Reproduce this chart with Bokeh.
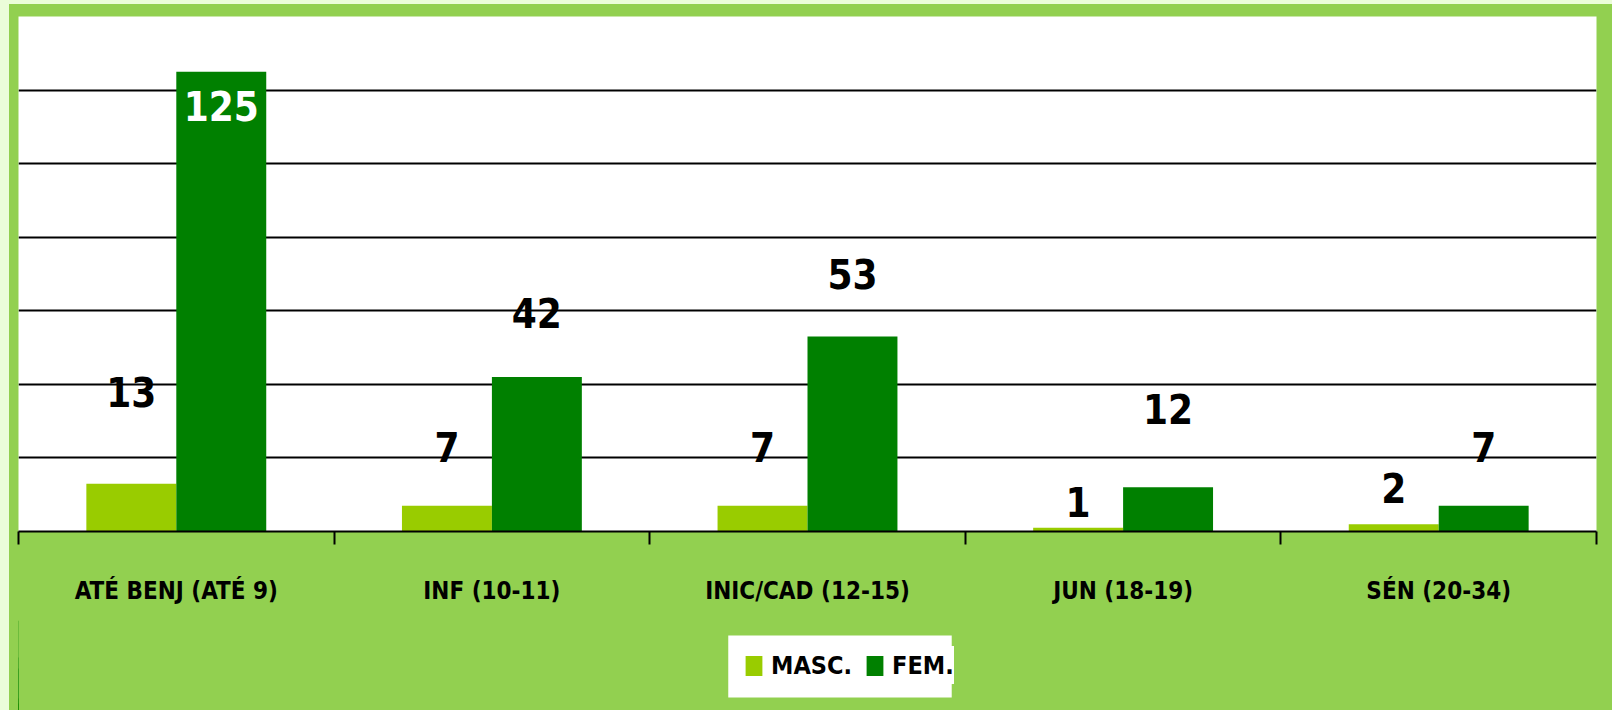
from bokeh.plotting import figure
from bokeh.layouts import column
from bokeh.models import (ColumnDataSource, FixedTicker, CustomJSTickFormatter,
                          GlobalInlineStyleSheet, Legend, LegendItem, BoxAnnotation)
from bokeh.transform import dodge
from bokeh.core.properties import value
from bokeh.embed import file_html
from bokeh.resources import INLINE

# ---- data ----
categories = ["ATÉ BENJ (ATÉ 9)", "INF (10-11)", "INIC/CAD (12-15)", "JUN (18-19)", "SÉN (20-34)"]
masc = [13, 7, 7, 1, 2]
fem = [125, 42, 53, 12, 7]
series_names = ["MASC.", "FEM."]
# label anchor heights (data units, label centres) as placed in the original
masc_label_y = [37.8, 23.1, 23.1, 8.0, 11.7]
fem_label_y = [115.8, 59.4, 69.9, 33.2, 23.1]
fem_label_color = ["white", "black", "black", "black", "black"]
y_ticks = [0, 20, 40, 60, 80, 100, 120, 140]

FONT = "'DejaVu Sans Condensed', 'Liberation Sans Narrow', sans-serif"
C_MASC = "#99CC00"
C_FEM = "#008000"
C_FRAME = "#92D050"

xs = [i + 0.5 for i in range(len(categories))]
src = ColumnDataSource(dict(
    x=xs, masc=masc, fem=fem,
    masc_txt=[str(v) for v in masc], fem_txt=[str(v) for v in fem],
    masc_ly=masc_label_y, fem_ly=fem_label_y, fem_col=fem_label_color,
))

p = figure(width=1603, height=616, x_range=(0, len(categories)), y_range=(0, 140),
           output_backend="svg", toolbar_location=None,
           min_border_left=9, min_border_right=16, min_border_top=12, min_border_bottom=89)

p.background_fill_color = "white"
p.border_fill_color = C_FRAME
p.outline_line_color = None

W = 0.285
p.vbar(x=dodge("x", -W / 2, range=p.x_range), top="masc", width=W, source=src,
       fill_color=C_MASC, line_color=None)
p.vbar(x=dodge("x", W / 2, range=p.x_range), top="fem", width=W, source=src,
       fill_color=C_FEM, line_color=None)

p.text(x=dodge("x", -W / 2, range=p.x_range), y="masc_ly", text="masc_txt", source=src,
       text_font=value(FONT), text_font_style="bold", text_font_size="40px",
       text_align="center", text_baseline="middle", text_color="black")
p.text(x=dodge("x", W / 2, range=p.x_range), y="fem_ly", text="fem_txt", source=src,
       text_font=value(FONT), text_font_style="bold", text_font_size="40px",
       text_align="center", text_baseline="middle", text_color="fem_col")

# axes
p.yaxis.visible = False
p.ygrid.ticker = FixedTicker(ticks=y_ticks)
p.ygrid.grid_line_color = "black"
p.ygrid.grid_line_width = 2
p.xgrid.visible = False

ax = p.xaxis[0]
ax.ticker = FixedTicker(ticks=xs, minor_ticks=list(range(len(categories) + 1)))
ax.formatter = CustomJSTickFormatter(args=dict(cats=categories),
                                     code="return cats[Math.floor(tick)] || '';")
ax.axis_line_color = "black"
ax.axis_line_width = 2
ax.major_tick_line_color = None
ax.major_tick_in = 0
ax.major_tick_out = 0
ax.minor_tick_line_color = "black"
ax.minor_tick_line_width = 2
ax.minor_tick_in = 0
ax.minor_tick_out = 13
ax.major_label_standoff = 32
ax.major_label_text_font = FONT
ax.major_label_text_font_style = "bold"
ax.major_label_text_font_size = "24px"
ax.major_label_text_color = "black"

# ---- legend strip (separate figure below the chart, pixel ranges) ----
q = figure(width=1603, height=90, x_range=(0, 1603), y_range=(0, 90),
           output_backend="svg", toolbar_location=None,
           min_border_left=0, min_border_right=0, min_border_top=0, min_border_bottom=0)
q.axis.visible = False
q.grid.visible = False
q.background_fill_color = C_FRAME
q.border_fill_color = C_FRAME
q.outline_line_color = None
# legend-only renderers: shifted well outside the strip so nothing shows
lm = q.vbar(x=dodge("x", -60), top="masc", width=1, source=src,
            fill_color=C_MASC, line_color=None)
lf = q.vbar(x=dodge("x", -60), top="fem", width=1, source=src,
            fill_color=C_FEM, line_color=None)

# white legend panel
q.add_layout(BoxAnnotation(left=721, right=948, bottom=13, top=75,
                           fill_color="white", fill_alpha=1, line_color=None))

lg = Legend(items=[LegendItem(label=series_names[0], renderers=[lm]),
                   LegendItem(label=series_names[1], renderers=[lf])])
lg.location = (725, 26)
lg.orientation = "horizontal"
lg.background_fill_color = "white"
lg.background_fill_alpha = 1
lg.border_line_color = None
lg.padding = 12
lg.margin = 0
lg.spacing = 12
lg.glyph_width = 21
lg.glyph_height = 25
lg.label_standoff = 7
lg.label_height = 38
lg.label_text_font = FONT
lg.label_text_font_style = "bold"
lg.label_text_font_size = "25px"
lg.label_text_color = "black"
q.add_layout(lg, "center")

layout = column(p, q, spacing=0)
layout.styles = {"background-color": C_FRAME}
layout.stylesheets = [GlobalInlineStyleSheet(css="html,body{background:#EBFDD9;margin:0;overflow:hidden;} body{padding:4px 0 0 9px;}")]

open("out.html", "w").write(file_html(layout, INLINE))
